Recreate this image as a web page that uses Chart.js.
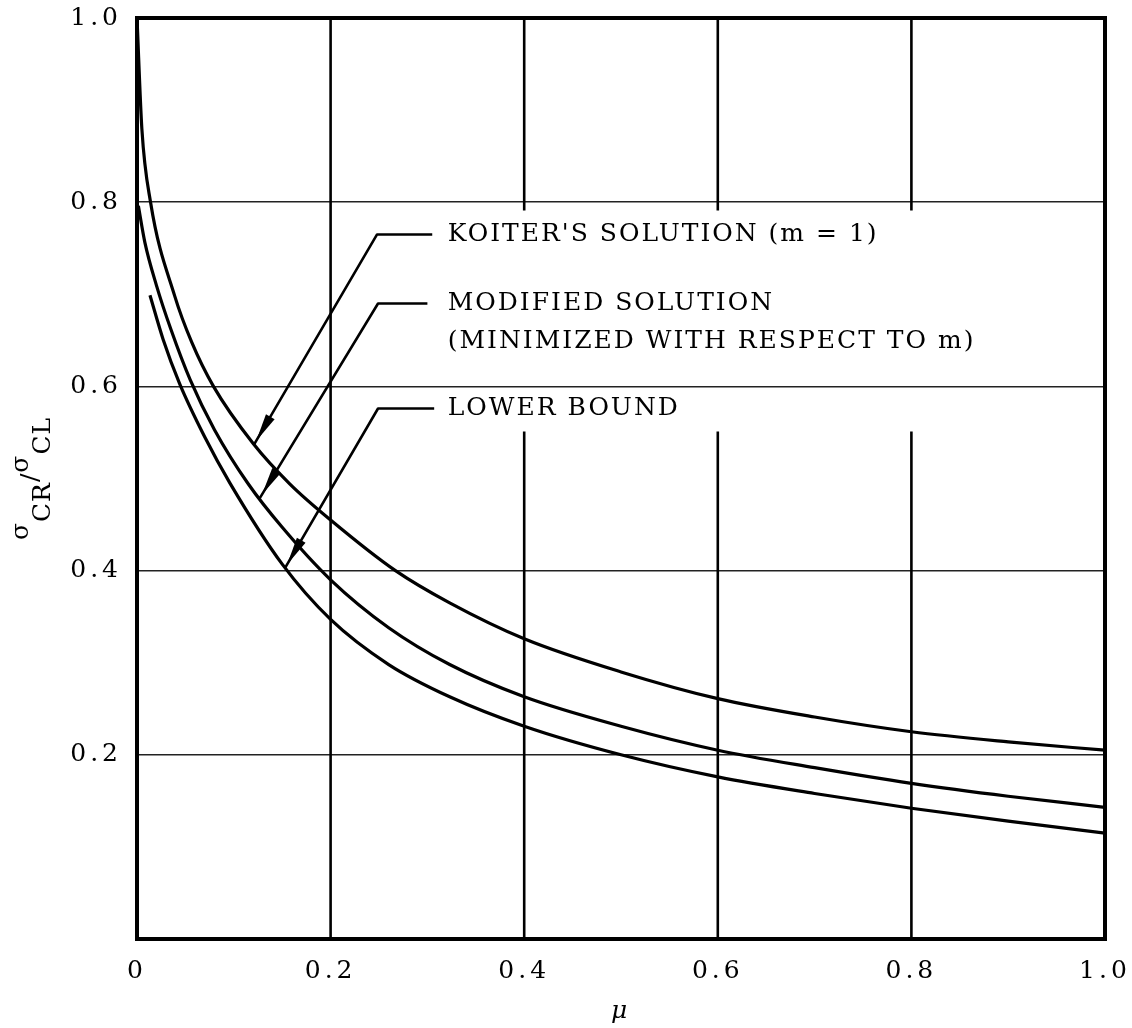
<!DOCTYPE html>
<html>
<head>
<meta charset="utf-8">
<script src="https://cdn.jsdelivr.net/npm/chart.js@4.4.1/dist/chart.umd.min.js"></script>
<style>
  html, body { margin: 0; padding: 0; background: #fff; }
</style>
</head>
<body>
<canvas id="buckling" width="1132" height="1028"></canvas>
<script>
// tick labels (y axis leaves the origin blank)
const xTickLabels = ['0', '0.2', '0.4', '0.6', '0.8', '1.0'];
const yTickLabels = ['', '0.2', '0.4', '0.6', '0.8', '1.0'];

// Koiter's solution (m = 1)
const koiterMu  = [0, 0.005, 0.014, 0.039, 0.0565, 0.079, 0.12, 0.158, 0.2, 0.267, 0.323, 0.4, 0.5, 0.6, 0.7, 0.8, 0.9, 1.0];
const koiterVal = [1.0, 0.88, 0.80, 0.698, 0.648, 0.60, 0.538, 0.494, 0.455, 0.40, 0.365, 0.326, 0.290, 0.261, 0.241, 0.225, 0.214, 0.205];

// modified solution, minimized with respect to m
const modifiedMu  = [0.0014, 0.008, 0.02, 0.035, 0.055, 0.08, 0.115, 0.15, 0.2, 0.26, 0.323, 0.4, 0.5, 0.6, 0.7, 0.8, 0.9, 1.0];
const modifiedVal = [0.796, 0.757, 0.710, 0.662, 0.607, 0.553, 0.494, 0.447, 0.390, 0.338, 0.298, 0.263, 0.231, 0.205, 0.186, 0.169, 0.155, 0.143];

// lower bound
const lowerMu  = [0.0134, 0.027, 0.044, 0.07, 0.096, 0.15, 0.2, 0.26, 0.323, 0.4, 0.5, 0.6, 0.7, 0.8, 0.9, 1.0];
const lowerVal = [0.699, 0.651, 0.603, 0.545, 0.495, 0.407, 0.347, 0.298, 0.263, 0.231, 0.200, 0.176, 0.158, 0.142, 0.128, 0.115];

const calloutTexts = [
    ["KOITER'S SOLUTION (m = 1)"],
    ['MODIFIED SOLUTION', '(MINIMIZED WITH RESPECT TO m)'],
    ['LOWER BOUND']
];

const SERIF = '"DejaVu Serif", "Liberation Serif", serif';

const toPoints = (xs, ys) => xs.map((v, i) => ({x: v, y: ys[i]}));

const curve = (label, xs, ys) => ({
    label: label,
    data: toPoints(xs, ys),
    showLine: true,
    borderColor: '#000',
    borderWidth: 3.2,
    pointRadius: 0,
    cubicInterpolationMode: 'monotone',
    fill: false
});

// leader lines in data units: arrow tip, elbow, end of the short horizontal, label rows
const calloutGeometry = [
    {tip: [0.121, 0.537], elbow: [0.248, 0.765], end: 0.305, rows: [0.765]},
    {tip: [0.127, 0.479], elbow: [0.249, 0.690], end: 0.300, rows: [0.690, 0.649]},
    {tip: [0.153, 0.403], elbow: [0.249, 0.576], end: 0.307, rows: [0.576]}
];

const textSpacing = {
    id: 'textSpacing',
    beforeDraw(chart) {
        chart.ctx.letterSpacing = '4px';
    }
};

const frameAndGrid = {
    id: 'frameAndGrid',
    beforeDatasetsDraw(chart) {
        const {ctx, chartArea: a, scales: {x, y}} = chart;
        ctx.save();
        ctx.strokeStyle = '#000';
        ctx.lineWidth = 2.6;
        x.ticks.forEach(t => {
            if (t.value <= 0 || t.value >= 1) return;
            const px = x.getPixelForValue(t.value);
            ctx.beginPath();
            if (t.value >= 0.4) {
                // break in the vertical lines behind the callout labels
                ctx.moveTo(px, a.top);
                ctx.lineTo(px, y.getPixelForValue(0.791));
                ctx.moveTo(px, y.getPixelForValue(0.551));
                ctx.lineTo(px, a.bottom);
            } else {
                ctx.moveTo(px, a.top);
                ctx.lineTo(px, a.bottom);
            }
            ctx.stroke();
        });
        ctx.lineWidth = 4;
        ctx.strokeRect(a.left, a.top, a.width, a.height);
        ctx.restore();
    }
};

const callouts = {
    id: 'callouts',
    afterDatasetsDraw(chart) {
        const {ctx, scales: {x, y}} = chart;
        ctx.save();
        ctx.strokeStyle = '#000';
        ctx.fillStyle = '#000';
        ctx.lineWidth = 2.6;
        ctx.lineJoin = 'round';
        calloutGeometry.forEach((g, i) => {
            const tx = x.getPixelForValue(g.tip[0]), ty = y.getPixelForValue(g.tip[1]);
            const ex = x.getPixelForValue(g.elbow[0]), ey = y.getPixelForValue(g.elbow[1]);
            const hx = x.getPixelForValue(g.end);
            ctx.beginPath();
            ctx.moveTo(hx, ey);
            ctx.lineTo(ex, ey);
            ctx.lineTo(tx, ty);
            ctx.stroke();
            // dart-shaped arrowhead a little back from the tip
            const len = Math.hypot(ex - tx, ey - ty);
            const ux = (ex - tx) / len, uy = (ey - ty) / len;
            const nx = -uy, ny = ux;
            const p0 = [tx + ux * 4, ty + uy * 4];
            const b = [tx + ux * 32, ty + uy * 32];
            ctx.beginPath();
            ctx.moveTo(p0[0], p0[1]);
            ctx.lineTo(b[0] + nx * 5, b[1] + ny * 5);
            ctx.lineTo(b[0] - nx * 5, b[1] - ny * 5);
            ctx.closePath();
            ctx.fill();

            ctx.font = '25px ' + SERIF;
            ctx.letterSpacing = '2px';
            ctx.textBaseline = 'middle';
            ctx.textAlign = 'left';
            calloutTexts[i].forEach((line, k) => {
                ctx.fillText(line, x.getPixelForValue(0.321), y.getPixelForValue(g.rows[k]));
            });
        });
        ctx.restore();
    }
};

// y axis title: sigma_CR / sigma_CL, written bottom to top
const yTitle = {
    id: 'yTitle',
    afterDraw(chart) {
        const {ctx, chartArea: a} = chart;
        const parts = [
            {t: 'σ', size: 25, rise: 22},
            {t: 'CR', size: 25, rise: 0},
            {t: '/', size: 25, rise: 12},
            {t: 'σ', size: 25, rise: 22},
            {t: 'CL', size: 25, rise: 0}
        ];
        ctx.save();
        ctx.letterSpacing = '1px';
        ctx.fillStyle = '#000';
        let total = 0;
        parts.forEach(p => {
            ctx.font = p.size + 'px ' + SERIF;
            p.w = ctx.measureText(p.t).width;
            total += p.w;
        });
        ctx.translate(50, (a.top + a.bottom) / 2);
        ctx.rotate(-Math.PI / 2);
        ctx.textBaseline = 'alphabetic';
        ctx.textAlign = 'left';
        let cx = -total / 2;
        parts.forEach(p => {
            ctx.font = p.size + 'px ' + SERIF;
            ctx.fillText(p.t, cx, -p.rise);
            cx += p.w;
        });
        ctx.restore();
    }
};

new Chart(document.getElementById('buckling'), {
    type: 'scatter',
    data: {
        datasets: [
            curve("Koiter's solution (m = 1)", koiterMu, koiterVal),
            curve('Modified solution', modifiedMu, modifiedVal),
            curve('Lower bound', lowerMu, lowerVal)
        ]
    },
    options: {
        responsive: false,
        animation: false,
        layout: {padding: {top: 18, right: 27, left: 0, bottom: 0}},
        plugins: {
            legend: {display: false},
            tooltip: {enabled: false}
        },
        scales: {
            x: {
                type: 'linear',
                min: 0,
                max: 1,
                afterFit: s => {
                    s.height = 89;
                    s.paddingLeft = 0;
                    s.paddingRight = 0;
                },
                border: {display: false},
                grid: {display: false},
                ticks: {
                    stepSize: 0.2,
                    padding: 9,
                    color: '#000',
                    font: {family: SERIF, size: 25},
                    callback: (v, i) => xTickLabels[i]
                },
                title: {
                    display: true,
                    text: 'μ',
                    color: '#000',
                    font: {family: SERIF, size: 25, style: 'italic'},
                    padding: {top: 0, bottom: 2}
                }
            },
            y: {
                type: 'linear',
                min: 0,
                max: 1,
                afterFit: s => {
                    s.width = 137;
                    s.paddingTop = 0;
                    s.paddingBottom = 0;
                },
                border: {display: false},
                grid: {color: '#222', lineWidth: 1.5, drawTicks: false},
                ticks: {
                    stepSize: 0.2,
                    padding: 15,
                    color: '#000',
                    font: {family: SERIF, size: 25},
                    callback: (v, i) => yTickLabels[i]
                }
            }
        }
    },
    plugins: [textSpacing, frameAndGrid, callouts, yTitle]
});
</script>
</body>
</html>
